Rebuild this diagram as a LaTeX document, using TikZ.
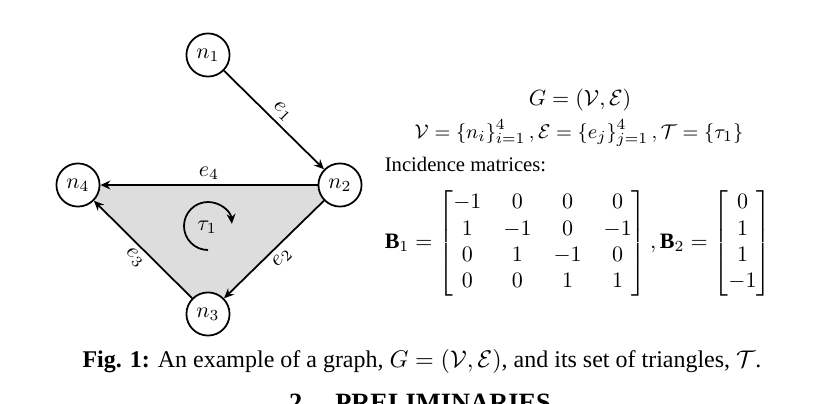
\documentclass[tikz,border=0pt]{standalone}
\usepackage{amsmath}
\usepackage{fontspec}
\setmainfont{Liberation Serif}
\usetikzlibrary{arrows.meta}
\begin{document}
\begin{tikzpicture}[x=0.4545pt,y=0.4545pt,
  vert/.style={circle,draw,line width=0.8pt,fill=white,minimum size=19.6pt,inner sep=0pt},
  edge/.style={line width=0.8pt,-{Stealth[length=4.5pt,width=4pt]}},
  elab/.style={inner sep=2pt}]
\useasboundingbox (0,0) rectangle (832,-404);
\coordinate (p1) at (208,-55);
\coordinate (p2) at (340,-185);
\coordinate (p3) at (208,-314);
\coordinate (p4) at (78,-185);
\fill[gray!27] (p2) -- (p4) -- (p3) -- cycle;
\node[vert] (n1) at (p1) {$n_1$};
\node[vert] (n2) at (p2) {$n_2$};
\node[vert] (n3) at (p3) {$n_3$};
\node[vert] (n4) at (p4) {$n_4$};
\draw[edge] (n1) -- node[elab,sloped,above]{$e_1$} (n2);
\draw[edge] (n2) -- node[elab,above]{$e_4$} (n4);
\draw[edge] (n2) -- node[elab,sloped,below]{$e_2$} (n3);
\draw[edge] (n3) -- node[elab,sloped,below]{$e_3$} (n4);
\node (tau) at (207,-227) {$\tau_1$};
\draw[line width=0.8pt,-{Stealth[length=4.5pt,width=4pt]}] (208,-250) arc[start angle=270,end angle=5,radius=24];
\node (G) at (580,-100) {$G=(\mathcal{V},\mathcal{E})$};
\node[font=\fontsize{9.5}{11}\selectfont] (sets) at (579,-133) {$\mathcal{V}=\{n_i\}_{i=1}^4\,,\mathcal{E}=\{e_j\}_{j=1}^4\,,\mathcal{T}=\{\tau_1\}$};
\node[anchor=west,font=\fontsize{9.4}{11}\selectfont] (inc) at (377,-164) {Incidence matrices:};
\node (mat) at (578,-243) {$\mathbf{B}_1=\begin{bmatrix}-1&0&0&0\\1&-1&0&-1\\0&1&-1&0\\0&0&1&1\end{bmatrix},\mathbf{B}_2=\begin{bmatrix}0\\1\\1\\-1\end{bmatrix}$};
\node[font=\fontsize{10.9}{13}\selectfont] (cap) at (422,-361) {\textbf{Fig. 1:} An example of a graph, $G=(\mathcal{V},\mathcal{E})$, and its set of triangles, $\mathcal{T}$.};
\node[anchor=base,font=\fontsize{12}{14}\selectfont] (sec) at (420,-411) {\textbf{2.\quad PRELIMINARIES}};
\end{tikzpicture}
\end{document}
